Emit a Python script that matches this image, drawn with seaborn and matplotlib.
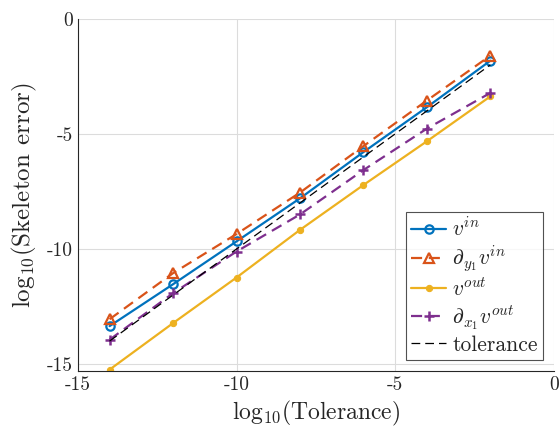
import numpy as np
import pandas as pd
import seaborn as sns
import matplotlib
matplotlib.use("Agg")
import matplotlib.pyplot as plt

# log10 tolerance
tol = [-14, -12, -10, -8, -6, -4, -2]
# log10 skeleton errors
v_in = [-13.35, -11.53, -9.67, -7.80, -5.79, -3.84, -1.82]
dy_v_in = [-13.05, -11.05, -9.35, -7.55, -5.53, -3.55, -1.6]
v_out = [-15.24, -13.22, -11.24, -9.17, -7.22, -5.32, -3.37]
dx_v_out = [-13.94, -11.92, -10.11, -8.5, -6.57, -4.77, -3.22]

sns.set_style("white")
plt.rcParams["font.family"] = "serif"
plt.rcParams["font.serif"] = ["cmr10", "DejaVu Serif"]
plt.rcParams["mathtext.fontset"] = "cm"
plt.rcParams["axes.unicode_minus"] = False
plt.rcParams["axes.formatter.use_mathtext"] = False

fig = plt.figure(figsize=(5.6, 4.37), dpi=100)
ax = fig.add_axes([0.139, 0.151, 0.850, 0.806])

sns.lineplot(x=tol, y=v_in, ax=ax, color="#0072BD", lw=1.6, marker="o",
             markersize=6, markerfacecolor="none", markeredgecolor="#0072BD",
             markeredgewidth=1.6, label=r"$v^{in}$")
sns.lineplot(x=tol, y=dy_v_in, ax=ax, color="#D95319", lw=1.6, ls=(0, (5, 3)),
             marker="^", markersize=7, markerfacecolor="none",
             markeredgecolor="#D95319", markeredgewidth=1.6,
             label=r"$\partial_{y_1} v^{in}$")
sns.lineplot(x=tol, y=v_out, ax=ax, color="#EDB120", lw=1.6, marker="o",
             markersize=4.5, markerfacecolor="#EDB120", markeredgecolor="#EDB120",
             label=r"$v^{out}$")
sns.lineplot(x=tol, y=dx_v_out, ax=ax, color="#7E2F8E", lw=1.6, ls=(0, (5, 3)),
             marker="+", markersize=7, markeredgewidth=1.8,
             markeredgecolor="#7E2F8E", label=r"$\partial_{x_1} v^{out}$")
sns.lineplot(x=tol, y=tol, ax=ax, color="black", lw=0.9, ls=(0, (7, 4)),
             label="tolerance")

ax.set_xlim(-15, 0)
ax.set_ylim(-15.3, 0)
ax.set_xticks([-15, -10, -5, 0])
ax.set_yticks([-15, -10, -5, 0])
ax.grid(True, color="#dcdcdc", lw=0.8)
ax.tick_params(direction="in", length=4, labelsize=14, color="#262626",
               labelcolor="#262626")
for s in ["top", "right"]:
    ax.spines[s].set_visible(False)
for s in ["left", "bottom"]:
    ax.spines[s].set_color("#262626")
    ax.spines[s].set_linewidth(0.8)

ax.set_xlabel(r"$\mathrm{log}_{10}(\mathrm{Tolerance})$", fontsize=17, color="#262626")
ax.set_ylabel(r"$\mathrm{log}_{10}(\mathrm{Skeleton\;\,error})$", fontsize=18,
              color="#262626", labelpad=6)

leg = ax.legend(loc="lower right", fontsize=15.5, frameon=True, fancybox=False,
                edgecolor="#262626", handlelength=1.6, handletextpad=0.3,
                borderpad=0.25, labelspacing=0.15, borderaxespad=0.5)
leg.get_frame().set_linewidth(0.8)

fig.savefig("out.png", dpi=100)
